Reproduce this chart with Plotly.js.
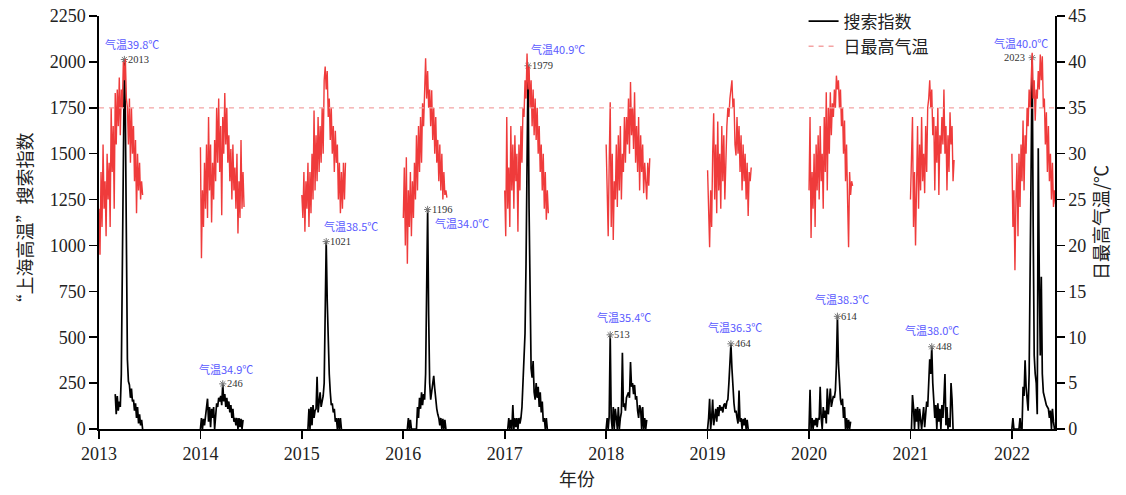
<!DOCTYPE html>
<html>
<head>
<meta charset="utf-8">
<script src="https://cdn.plot.ly/plotly-3.0.1.min.js"></script>
<style>html,body{margin:0;padding:0;background:#fff;}#chart{width:1126px;height:495px;}</style>
</head>
<body>
<div id="chart"></div>
<script>
// ---- data ----
const years = [2013, 2014, 2015, 2016, 2017, 2018, 2019, 2020, 2021, 2022];
const dayStep = 0.01; // one sample per step along the season

// daily maximum temperature (°C), one season per year
const t2013 = [24, 19, 28, 22, 31, 24, 27, 21, 30, 25, 29, 22, 35, 28, 33, 24, 36.6, 31, 37, 33, 38.3, 32, 37, 35, 40, 38, 40.3, 36, 35, 31, 36, 29, 35, 30, 33, 27, 31.5, 23.5, 30, 26, 29, 25, 27, 25.5];
const t2014 = [30.7, 18.6, 26, 22, 29, 24, 31, 23, 34, 26, 31, 22.5, 29, 25, 31.5, 27, 35, 29, 36, 28, 33, 23.3, 34, 30, 36.6, 31, 35, 29, 32, 27, 30.5, 25, 31, 26, 28.5, 24, 30, 21.3, 27, 23, 31.5, 24, 28, 24.2];
const t2015 = [25.5, 23, 28, 21.5, 27, 24, 29, 22, 28, 23.5, 30, 25, 34.7, 26, 32, 27, 34, 28, 33, 29, 35, 30, 38, 39.5, 37, 39, 34, 36, 31.5, 35, 30, 33, 28, 32.5, 29, 31, 25, 29, 23.5, 28, 24, 29, 25, 29];
const t2016 = [23, 28.5, 20, 29.6, 18, 26, 22, 28, 21, 27, 23, 29, 25, 32, 26, 33, 28, 34, 29, 35.5, 33, 37, 40.4, 36, 39, 35, 37, 33, 36.9, 31.5, 35, 30, 34, 29, 31.5, 27, 31, 26, 30, 25, 28, 25.5, 26, 25.2];
const t2017 = [26, 21, 34, 24, 28.5, 22, 33, 26, 31, 24, 32, 27, 30, 21.5, 31, 26, 33, 29, 35, 34, 38, 36, 40.9, 37, 39.5, 35, 38, 33, 37, 32, 36, 31.5, 35, 30, 33, 28, 31, 26, 30, 24, 28, 22.8, 26, 23.5];
const t2018 = [31, 24, 21, 29, 35.6, 22, 30, 20.6, 27, 25, 31, 24.2, 32, 26, 33, 25, 30, 28, 34, 29, 34, 31, 36, 30, 37.8, 32, 35, 30.5, 36.7, 29, 33, 28, 34, 26, 32, 28, 31, 25.7, 29, 27, 25, 29, 26.5, 29.5];
const t2019 = [28.2, 24, 19.8, 26, 22, 30, 34.4, 25, 31, 23.5, 33.5, 26, 30, 24, 33, 27, 32, 25, 31, 33, 35, 34, 36, 37, 38, 35, 36, 31, 29.8, 34, 30, 33, 28, 32, 26, 31, 27, 30, 25, 29, 23.2, 28, 27, 28.5];
const t2020 = [26, 34, 20.8, 28, 24, 30, 22, 31, 26, 32, 25, 33, 27, 30, 24, 34, 28, 36.7, 26, 35, 30, 36.7, 32, 35.5, 34, 37, 35, 38.5, 37, 38, 35, 37, 33, 35, 30, 33.6, 27, 31, 25, 19.8, 28, 25.5, 27, 26.5];
const t2021 = [25, 30, 34, 22, 28, 20, 27, 33, 24, 31, 26, 34, 27, 30, 25.7, 33, 28, 35, 36, 38, 35, 37, 32, 34, 26, 33, 29, 35, 25.5, 32, 30, 34, 31, 37, 30, 33, 26, 32, 28, 34.5, 31, 33, 27, 29.3];
const t2022 = [30, 22, 26, 17.3, 25, 29, 21, 30, 24.2, 31, 27, 33.6, 26, 32, 30, 35, 33, 37, 35, 39, 41, 36, 38, 33.6, 37, 36, 39, 37, 40.8, 38, 40.6, 35, 36, 31, 34.5, 28, 33, 27, 30, 25, 29, 24.2, 26, 24.5];

// "上海高温" search index, same sampling (null = no data)
const s2013 = [null, null, null, null, null, null, null, null, null, null, null, null, null, null, null, null, 190, 80, 180, 100, 150, 120, 300, 900, 1500, 2013, 1700, 1000, 380, 260, 240, 170, 220, 150, 160, 100, 140, 60, 120, 30, 80, 20, 50, 0];
const s2014 = [0, 60, 0, 55, 20, 60, 130, 165, 40, 120, 10, 110, 60, 120, 0, 100, 140, 120, 170, 150, 180, 130, 246, 150, 190, 120, 170, 110, 150, 90, 130, 60, 110, 40, 60, 20, 60, 0, 60, 10, 55, 0, 50, null];
const s2015 = [null, null, null, null, null, null, 0, 110, 0, 120, 20, 130, 60, 100, 110, 285, 90, 140, 200, 120, 160, 180, 250, 560, 1021, 700, 470, 300, 200, 130, 140, 90, 110, 40, 60, 0, 60, 0, 60, 0, null, null, null, null];
const s2016 = [null, null, null, null, 0, 60, 0, 50, 0, 0, 0, 0, 0, 0, 120, 60, 170, 110, 200, 130, 190, 160, 300, 700, 1196, 620, 250, 160, 200, 240, 290, 220, 150, 110, 80, 60, 20, 60, 0, 55, 0, 50, 0, null];
const s2017 = [null, null, null, 0, 60, 0, 50, 0, 130, 0, 60, 10, 60, 0, 60, 30, 60, 120, 250, 400, 520, 900, 1500, 1979, 1200, 600, 330, 280, 370, 200, 160, 250, 170, 230, 120, 200, 90, 150, 40, 60, 0, 60, 0, null];
const s2018 = [0, 60, 0, 70, 513, 60, 0, 120, 0, 110, 60, 0, 120, 0, 60, 90, 415, 120, 140, 100, 170, 190, 200, 170, 365, 230, 250, 190, 240, 160, 180, 100, 60, 130, 110, 0, 120, 0, 60, 0, 50, null, null, null];
const s2019 = [0, 60, 165, 0, 60, 160, 20, 80, 110, 40, 120, 70, 130, 100, 120, 90, 130, 140, 110, 150, 160, 250, 420, 464, 330, 200, 140, 90, 100, 60, 30, 210, 40, 60, 0, 55, 20, 60, 0, 50, 0, null, null, null];
const s2020 = [0, 214, 0, 60, 0, 50, 20, 60, 10, 60, 50, 230, 60, 0, 120, 60, 100, 30, 220, 80, 150, 220, 120, 150, 180, 170, 210, 350, 614, 360, 250, 160, 130, 165, 60, 120, 0, 60, 0, 50, 0, 40, null, null];
const s2021 = [null, 0, 185, 120, 0, 110, 40, 120, 0, 110, 50, 0, 60, 120, 10, 90, 150, 120, 320, 380, 300, 448, 250, 140, 60, 130, 0, 140, 40, 110, 0, 130, 60, 160, 300, 20, 120, 0, 60, 10, 250, 160, 0, null];
const s2022 = [0, 60, 0, 0, 0, 0, 0, 0, 60, 0, 0, 230, 180, 375, 230, 150, 100, 300, 900, 1600, 2023, 1100, 400, 300, 250, 80, 1530, 830, 400, 830, 300, 200, 170, 140, 130, 120, 110, 60, 100, 0, 110, 40, 0, null];

// annotated yearly peaks
const peakSearch = [2013, 246, 1021, 1196, 1979, 513, 464, 614, 448, 2023];
const peakTemp = [39.8, 34.9, 38.5, 34.0, 40.9, 35.4, 36.3, 38.3, 38.0, 40.0];
const hotThreshold = 35; // °C reference line
const xRange = [2013, 2022.425];

// ---- build traces ----
const tempSeasons = [t2013, t2014, t2015, t2016, t2017, t2018, t2019, t2020, t2021, t2022];
const searchSeasons = [s2013, s2014, s2015, s2016, s2017, s2018, s2019, s2020, s2021, s2022];

function concatSeasons(seasons) {
  const xs = [], ys = [];
  seasons.forEach((vals, k) => {
    vals.forEach((v, i) => { xs.push(+(years[k] + i * dayStep).toFixed(4)); ys.push(v); });
    xs.push(null); ys.push(null);
  });
  return {xs, ys};
}
const T = concatSeasons(tempSeasons);
const S = concatSeasons(searchSeasons);

// peak positions from the search arrays
const peakX = searchSeasons.map((vals, k) => {
  let bi = -1;
  vals.forEach((v, i) => { if (v !== null && (bi < 0 || v > vals[bi])) bi = i; });
  return +(years[k] + bi * dayStep).toFixed(4);
});

const FONT = 'Times New Roman, Liberation Serif, serif';
const CJK = 'Noto Sans CJK SC, sans-serif';

const traces = [
  {x: T.xs, y: T.ys, yaxis: 'y2', type: 'scatter', mode: 'lines', connectgaps: false,
   line: {color: '#ef3b3b', width: 1.4}, showlegend: false, hoverinfo: 'skip'},
  {x: S.xs, y: S.ys, type: 'scatter', mode: 'lines', connectgaps: false, name: '搜索指数',
   line: {color: '#000000', width: 1.7}},
  {x: xRange, y: [hotThreshold, hotThreshold], yaxis: 'y2', type: 'scatter', mode: 'lines', name: '日最高气温',
   line: {color: '#f4a3a3', width: 1.3, dash: '5px,5px'}},
  {x: peakX, y: peakSearch, type: 'scatter', mode: 'markers', showlegend: false,
   marker: {symbol: 'asterisk-open', size: 6, color: '#777', line: {color: '#777', width: 1}}}
];

// label offsets (pixels) for the temperature notes
const tempShift = [[8, 16], [3, 15], [25, 16], [34, -14], [30, 17], [14, 18], [4, 17], [5, 17], [0, 17], [-11, 15]];

const annotations = [];
peakX.forEach((px, k) => {
  const last = k === peakX.length - 1;
  annotations.push({x: px, y: peakSearch[k], xref: 'x', yref: 'y', showarrow: false,
    text: String(peakSearch[k]), xanchor: last ? 'right' : 'left', yanchor: 'middle',
    xshift: last ? -5 : 2, yshift: 0, font: {family: FONT, size: 10.5, color: '#333'}});
  annotations.push({x: px, y: peakSearch[k], xref: 'x', yref: 'y', showarrow: false,
    text: '气温' + peakTemp[k].toFixed(1) + '℃', xanchor: 'center', yanchor: 'middle',
    xshift: tempShift[k][0], yshift: tempShift[k][1], font: {family: CJK, size: 11, color: '#5a5aff'}});
});

const axisCommon = {
  showline: true, linecolor: '#000', linewidth: 1.6, ticks: 'outside', ticklen: 8, tickwidth: 1.6,
  tickcolor: '#000', showgrid: false, zeroline: false
};

const layout = {
  width: 1126, height: 495,
  font: {family: FONT, size: 18, color: '#222'},
  margin: {l: 99, r: 71, t: 16, b: 66, autoexpand: false},
  paper_bgcolor: '#fff', plot_bgcolor: '#fff',
  showlegend: true,
  legend: {x: 0.737, y: 1.03, xanchor: 'left', yanchor: 'top', bgcolor: 'rgba(0,0,0,0)',
    font: {family: CJK, size: 17, color: '#222'}, tracegroupgap: 0},
  xaxis: Object.assign({}, axisCommon, {range: xRange, tickvals: years, ticktext: years.map(String),
    automargin: false, tickfont: {family: FONT, size: 18, color: '#222'},
    title: {text: '年份', font: {family: CJK, size: 18, color: '#222'}, standoff: 10}}),
  yaxis: Object.assign({}, axisCommon, {range: [0, 2250], tick0: 0, dtick: 250, automargin: false,
    tickfont: {family: FONT, size: 18, color: '#222'},
    title: {text: '“上海高温”搜索指数', font: {family: CJK, size: 18, color: '#222'}, standoff: 12}}),
  yaxis2: Object.assign({}, axisCommon, {range: [0, 45], tick0: 0, dtick: 5, overlaying: 'y', side: 'right',
    automargin: false, tickfont: {family: FONT, size: 18, color: '#222'},
    title: {text: '日最高气温/℃', font: {family: CJK, size: 18, color: '#222'}, standoff: 10}}),
  annotations: annotations
};

Plotly.newPlot('chart', traces, layout, {displayModeBar: false, staticPlot: true});
</script>
</body>
</html>
